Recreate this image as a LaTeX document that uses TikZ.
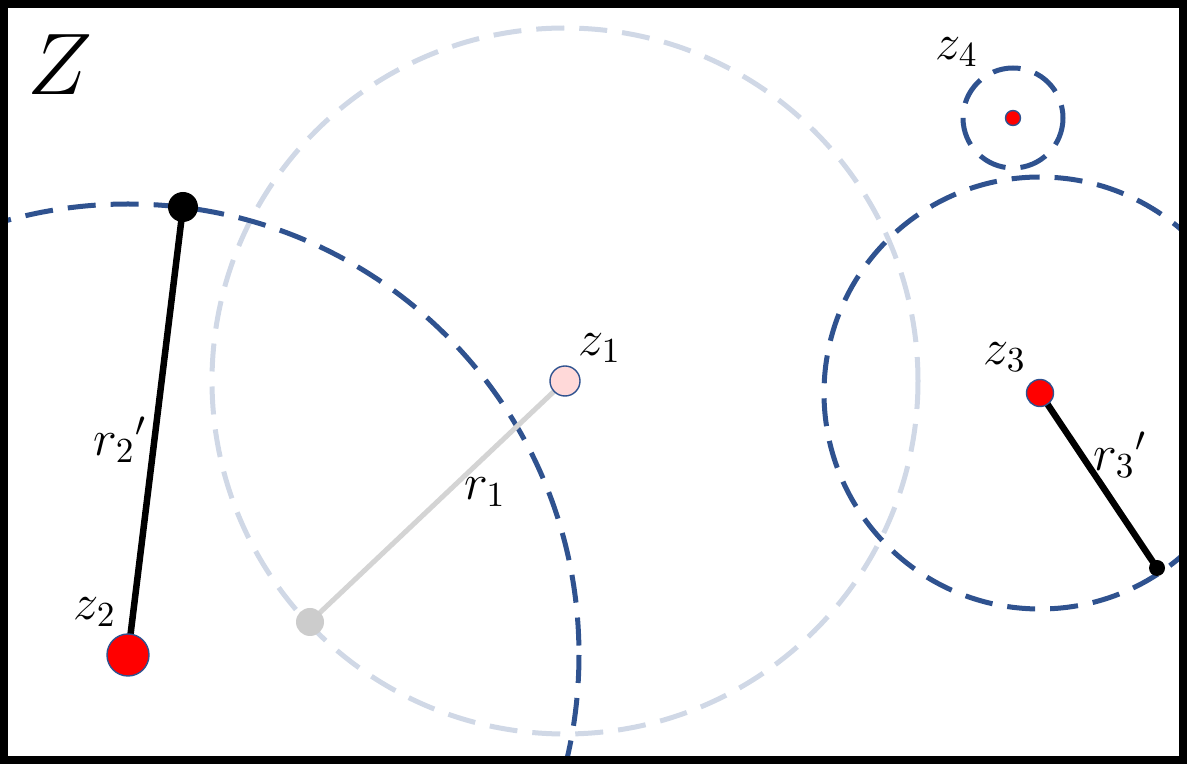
\documentclass[tikz,border=0pt]{standalone}
\usepackage{amsmath}
\usepackage{tikz}
\definecolor{ringblue}{RGB}{47,82,143}
\definecolor{ringpale}{RGB}{208,216,230}
\begin{document}
\begin{tikzpicture}[x=0.01cm, y=-0.01cm, font=\Large,
    ring/.style={ringblue, line width=0.5mm, dash pattern=on 2.8mm off 1.5mm},
    palering/.style={ringpale, line width=0.5mm, dash pattern=on 2.8mm off 1.5mm},
    pt/.style={circle, draw=ringblue, thin, fill=red, inner sep=0pt}]
    \useasboundingbox (0,0) rectangle (1187,764);
    % points
    \coordinate (z1) at (565,381);
    \coordinate (z2) at (128,655);
    \coordinate (z3) at (1040,393);
    \coordinate (z4) at (1013,118);
    \coordinate (g) at (310,622);
    \coordinate (b2) at (183,207);
    \coordinate (b3) at (1157,568);

    \begin{scope}
    \clip (4,4) rectangle (1183,760);
    % circles
    \draw[palering] (z1) circle (353);
    \draw[ring] (z2) circle (451);
    \draw[ring] (z3) circle (216);
    \draw[ring] (z4) circle (50);
    \end{scope}

    % radii
    \draw[line width=0.5mm, black!17] (g) -- (z1);
    \fill[black!20] (g) circle (14);
    \node[pt, fill=red!15, minimum size=3mm] (n1) at (z1) {};
    \draw[line width=0.65mm] (b2) -- (z2);
    \fill (b2) circle (15);
    \node[pt, minimum size=4.2mm] (n2) at (z2) {};
    \draw[line width=0.65mm] (z3) -- (b3);
    \fill (b3) circle (8);
    \node[pt, minimum size=2.7mm] (n3) at (z3) {};
    \node[pt, minimum size=1.5mm] (n4) at (z4) {};

    % labels
    \node at (600,348) {$z_1$};
    \node at (95,612) {$z_2$};
    \node at (1005,357) {$z_3$};
    \node at (957,52) {$z_4$};
    \node at (485,492) {$r_1$};
    \node at (120,440) {$r_2{}'$};
    \node at (1120,455) {$r_3{}'$};
    \node at (60,65) {\Huge $Z$};

    % frame
    \draw[line width=2.3pt] (4,4) rectangle (1183,760);
\end{tikzpicture}
\end{document}
